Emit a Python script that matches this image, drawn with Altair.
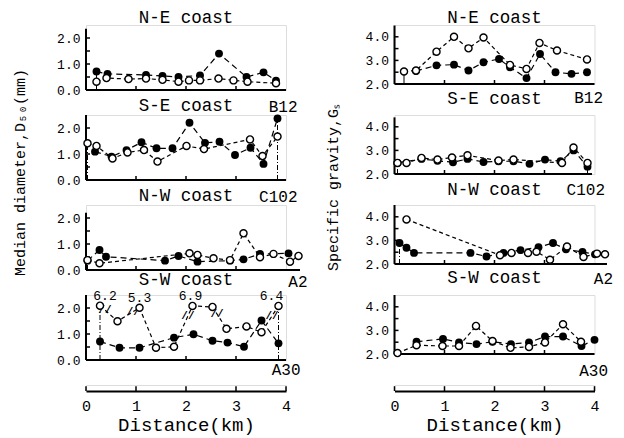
import altair as alt
import pandas as pd

FONT = "Liberation Mono"

# ---------------- data ----------------
# Median diameter D50 (mm)   f = filled circles, o = open circles
d_ne_fx = [0.21, 0.43, 1.20, 1.53, 1.85, 2.28, 2.66, 3.21, 3.55, 3.80]
d_ne_fy = [0.71, 0.62, 0.58, 0.54, 0.50, 0.56, 1.40, 0.50, 0.68, 0.36]
d_ne_ox = [0.21, 0.41, 0.85, 1.20, 1.53, 1.85, 2.06, 2.28, 2.65, 2.95, 3.23, 3.80]
d_ne_oy = [0.32, 0.46, 0.42, 0.44, 0.39, 0.32, 0.37, 0.37, 0.44, 0.37, 0.32, 0.26]

d_se_fx = [0.18, 0.51, 0.81, 1.11, 1.41, 1.73, 2.07, 2.38, 2.67, 2.98, 3.29, 3.55, 3.83]
d_se_fy = [1.09, 0.90, 1.15, 1.45, 1.22, 1.22, 2.20, 1.43, 1.47, 0.96, 1.24, 0.62, 2.37]
d_se_ox = [0.03, 0.21, 0.53, 0.83, 1.16, 1.43, 2.01, 2.36, 3.28, 3.53, 3.83]
d_se_oy = [1.41, 1.31, 0.83, 1.06, 1.15, 0.71, 1.31, 1.19, 1.56, 0.92, 1.67]

d_nw_fx = [0.03, 0.27, 0.40, 1.58, 1.85, 2.23, 2.88, 3.15, 3.48, 4.05]
d_nw_fy = [0.36, 0.77, 0.51, 0.36, 0.54, 0.32, 0.36, 0.41, 0.62, 0.64]
d_nw_ox = [0.03, 0.27, 2.07, 2.23, 2.55, 2.88, 3.15, 3.48, 3.75, 4.08, 4.25]
d_nw_oy = [0.38, 0.26, 0.64, 0.58, 0.45, 0.38, 1.41, 0.49, 0.62, 0.32, 0.54]

d_sw_fx = [0.28, 0.67, 1.07, 1.76, 2.15, 2.53, 2.83, 3.16, 3.51, 3.85]
d_sw_fy = [0.71, 0.47, 0.47, 0.86, 0.99, 0.74, 0.67, 0.51, 1.52, 0.64]
d_sw_ox = [0.28, 0.63, 1.07, 1.40, 1.76, 2.13, 2.53, 2.81, 3.21, 3.51, 3.85]
d_sw_oy = [2.09, 1.49, 2.01, 0.47, 0.51, 2.08, 2.04, 1.20, 1.29, 1.07, 2.08]
# off-scale open values (axis broken)
sw_break_idx = [0, 2, 5, 10]
sw_break_txt = ["6.2", "5.3", "6.9", "6.4"]
sw_break_seg = [(0, 1, 0.28), (1, 2, 0.72), (4, 5, 0.75), (6, 7, 0.32), (9, 10, 0.62)]

# Specific gravity Gs
g_ne_fx = [0.43, 0.84, 1.19, 1.48, 1.78, 2.09, 2.31, 2.64, 2.91, 3.22, 3.54, 3.85]
g_ne_fy = [2.55, 2.79, 2.82, 2.57, 2.92, 3.06, 2.71, 2.25, 3.27, 2.50, 2.43, 2.50]
g_ne_ox = [0.19, 0.43, 0.84, 1.19, 1.48, 1.78, 2.31, 2.64, 2.90, 3.25, 3.85]
g_ne_oy = [2.53, 2.57, 3.37, 4.00, 3.51, 3.97, 2.81, 2.64, 3.74, 3.42, 3.04]

g_se_fx = [0.06, 0.54, 0.86, 1.17, 1.46, 1.78, 2.08, 2.38, 2.70, 3.01, 3.32, 3.58, 3.86]
g_se_fy = [2.47, 2.64, 2.56, 2.50, 2.64, 2.51, 2.54, 2.54, 2.43, 2.61, 2.54, 3.00, 2.31]
g_se_ox = [0.06, 0.24, 0.54, 0.86, 1.15, 1.46, 2.08, 2.38, 3.35, 3.58, 3.86]
g_se_oy = [2.47, 2.47, 2.68, 2.61, 2.70, 2.79, 2.57, 2.61, 2.47, 3.12, 2.47]

g_nw_fx = [0.10, 0.24, 0.39, 1.52, 1.84, 2.18, 2.52, 2.88, 3.17, 3.43, 3.76, 4.01]
g_nw_fy = [2.89, 2.69, 2.47, 2.47, 2.32, 2.47, 2.59, 2.71, 2.89, 2.62, 2.51, 2.41]
g_nw_ox = [0.24, 2.11, 2.34, 2.67, 2.84, 3.11, 3.45, 3.78, 4.05, 4.21]
g_nw_oy = [3.89, 2.37, 2.47, 2.47, 2.52, 2.18, 2.74, 2.30, 2.44, 2.41]

g_sw_fx = [0.44, 0.97, 1.29, 1.64, 1.96, 2.33, 2.69, 3.01, 3.37, 3.74, 4.00]
g_sw_fy = [2.52, 2.64, 2.49, 2.42, 2.52, 2.42, 2.49, 2.74, 2.74, 2.34, 2.60]
g_sw_ox = [0.06, 0.44, 0.96, 1.29, 1.63, 1.96, 2.32, 2.69, 3.01, 3.37, 3.73]
g_sw_oy = [2.04, 2.37, 2.34, 2.34, 3.19, 2.55, 2.26, 2.30, 2.49, 3.26, 2.52]

titles = ["N-E coast", "S-E coast", "N-W coast", "S-W coast"]
codes = ["B12", "C102", "A2", "A30"]
dist_ticks = [0, 1, 2, 3, 4]


def panel(fx, fy, ox, oy, dom, ytop, ytick_vals, ylab_vals, x_end, vlines, title,
          title_off, code, code_x, code_y, height, px_unit, ytitle=None, ytitle_xy=None,
          solid_vline=False, extra=None):
    sx = alt.Scale(domain=[0, 4])
    sy = alt.Scale(domain=dom)
    yk = dict(values=ylab_vals, format=".1f", ticks=False, domain=False, grid=False,
              labelFont=FONT, labelFontSize=13, labelColor="black", labelPadding=6)
    if ytitle:
        yk.update(title=ytitle, titleFont=FONT, titleFontSize=15, titleFontWeight="normal",
                  titleColor="black", titleX=ytitle_xy[0], titleY=ytitle_xy[1],
                  titleAlign="center", titleBaseline="middle", titleAngle=270)
    else:
        yk.update(title="")
    ya = alt.Axis(**yk)
    xa = alt.Axis(domain=False, ticks=False, labels=False, grid=False, title=code,
                  titleFont=FONT, titleFontSize=16, titleFontWeight="normal",
                  titleColor="black", titleX=code_x, titleY=code_y,
                  titleAlign="right", titleBaseline="middle")

    def X(f):
        return alt.X(f, type="quantitative", scale=sx, axis=xa)

    def Y(f):
        return alt.Y(f, type="quantitative", scale=sy, axis=ya)

    tick_len = 4.0 / px_unit
    layers = []
    base = pd.DataFrame({"x": [0.0], "x2": [x_end], "y": [dom[0]]})
    layers.append(alt.Chart(base).mark_rule(color="black", strokeWidth=2).encode(
        x=X("x"), x2="x2", y=Y("y")))
    yline = pd.DataFrame({"x": [0.0], "y": [dom[0]], "y2": [ytop]})
    layers.append(alt.Chart(yline).mark_rule(color="black", strokeWidth=2).encode(
        x=X("x"), y=Y("y"), y2="y2"))
    yt = pd.DataFrame({"x": [0.0] * len(ytick_vals), "x2": [0.08] * len(ytick_vals),
                       "y": ytick_vals})
    layers.append(alt.Chart(yt).mark_rule(color="black", strokeWidth=1.5).encode(
        x=X("x"), x2="x2", y=Y("y")))
    xt = pd.DataFrame({"x": [1, 2, 3], "y": [dom[0]] * 3, "y2": [dom[0] + tick_len] * 3})
    layers.append(alt.Chart(xt).mark_rule(color="black", strokeWidth=1.5).encode(
        x=X("x"), y=Y("y"), y2="y2"))
    # panel heading, centred over the 0-4 km span
    ttl = pd.DataFrame({"x": [2.0], "y": [dom[1]], "t": [title]})
    layers.append(alt.Chart(ttl).mark_text(font=FONT, fontSize=17.5, color="black",
                                           baseline="middle", dy=-title_off).encode(
        x=X("x"), y=Y("y"), text="t:N"))
    if vlines:
        vl = pd.DataFrame({"x": [v[0] for v in vlines], "y": [dom[0]] * len(vlines),
                           "y2": [v[1] for v in vlines]})
        dash = [1, 0] if solid_vline else [5, 2, 1, 2]
        layers.append(alt.Chart(vl).mark_rule(color="black", strokeWidth=1,
                                               strokeDash=dash).encode(
            x=X("x"), y=Y("y"), y2="y2"))
    fdf = pd.DataFrame({"x": fx, "y": fy, "i": range(len(fx))})
    odf = pd.DataFrame({"x": ox, "y": oy, "i": range(len(ox))})
    layers.append(alt.Chart(fdf).mark_line(color="black", strokeWidth=1.2,
                                           strokeDash=[6, 4]).encode(
        x=X("x"), y=Y("y"), order="i:Q"))
    layers.append(alt.Chart(odf).mark_line(color="black", strokeWidth=1.2,
                                           strokeDash=[4, 3]).encode(
        x=X("x"), y=Y("y"), order="i:Q"))
    if extra is not None:
        layers.extend(extra(X, Y))
    layers.append(alt.Chart(fdf).mark_point(shape="circle", filled=True, color="black",
                                            size=62, opacity=1).encode(x=X("x"), y=Y("y")))
    layers.append(alt.Chart(odf).mark_point(shape="circle", filled=True, fill="white",
                                            stroke="black", strokeWidth=1.4, size=50,
                                            opacity=1).encode(x=X("x"), y=Y("y")))
    return alt.layer(*layers).properties(width=200, height=height)


def sw_extra(X, Y):
    lab = pd.DataFrame({"x": [d_sw_ox[i] for i in sw_break_idx],
                        "y": [d_sw_oy[i] for i in sw_break_idx],
                        "t": sw_break_txt,
                        "dx": [5, 0, -2, -7]})
    out = []
    for k in range(len(lab)):
        out.append(alt.Chart(lab.iloc[[k]]).mark_text(
            font=FONT, fontSize=13, color="black", dy=-10, dx=int(lab.dx.iloc[k]),
            baseline="middle").encode(x=X("x"), y=Y("y"), text="t:N"))
    bx, by = [], []
    for a, b, t in sw_break_seg:
        bx.append(d_sw_ox[a] + (d_sw_ox[b] - d_sw_ox[a]) * t)
        by.append(d_sw_oy[a] + (d_sw_oy[b] - d_sw_oy[a]) * t)
    brk = pd.DataFrame({"x": bx, "y": by, "t": ["//"] * len(bx)})
    out.append(alt.Chart(brk).mark_text(font=FONT, fontSize=11, fontWeight="bold",
                                        color="black", baseline="middle").encode(
        x=X("x"), y=Y("y"), text="t:N"))
    return out


def dist_chart():
    sx = alt.Scale(domain=[0, 4])
    xa = alt.Axis(values=dist_ticks, format="d", ticks=False, domain=True, domainWidth=2,
                  domainColor="black", grid=False, labelFont=FONT, labelFontSize=15,
                  labelColor="black", labelPadding=7, labelFlush=False,
                  title="Distance(km)", titleFont=FONT, titleFontSize=19,
                  titleFontWeight="normal", titleColor="black", titlePadding=2)
    df = pd.DataFrame({"x": dist_ticks, "y": [0] * 5, "y2": [0.8] * 5})
    return alt.Chart(df).mark_rule(color="black", strokeWidth=1.5).encode(
        x=alt.X("x:Q", scale=sx, axis=xa),
        y=alt.Y("y:Q", scale=alt.Scale(domain=[0, 1]), axis=None),
        y2="y2").properties(width=200, height=6)


LD = [0, 2.5]
LH = 65
LU = 26
lt = [0.5, 1.0, 1.5, 2.0]
ll = [0.0, 1.0, 2.0]
RD = [2.0, 4.5]
RH = 59
RU = 23.6
rt = [2.5, 3.0, 3.5, 4.0]
rl = [2.0, 3.0, 4.0]

left = alt.vconcat(
    panel(d_ne_fx, d_ne_fy, d_ne_ox, d_ne_oy, LD, 2.36, lt, ll, 4.0,
          [(d_ne_fx[0], d_ne_fy[0])], titles[0], 7, codes[0], 211, 16, LH, LU,
          solid_vline=True),
    panel(d_se_fx, d_se_fy, d_se_ox, d_se_oy, LD, 2.5, lt, ll, 4.0,
          [(d_se_ox[0], d_se_oy[0]), (d_se_fx[-1], d_se_fy[-1])], titles[1], 9,
          codes[1], 211, 16, LH, LU, ytitle="Median diameter,D₅₀(mm)",
          ytitle_xy=(-67, 57)),
    panel(d_nw_fx, d_nw_fy, d_nw_ox, d_nw_oy, LD, 2.2, lt, ll, 4.28,
          [(d_nw_ox[0], d_nw_oy[0])], titles[2], 9, codes[2], 221, 11, LH, LU),
    panel(d_sw_fx, d_sw_fy, d_sw_ox, d_sw_oy, LD, 2.5, lt, ll, 4.0,
          [(d_sw_ox[0], d_sw_oy[0]), (d_sw_ox[-1], d_sw_oy[-1])], titles[3], 15,
          codes[3], 214, 9, LH, LU, extra=sw_extra),
    dist_chart(),
    spacing=25, bounds="flush")

right = alt.vconcat(
    panel(g_ne_fx, g_ne_fy, g_ne_ox, g_ne_oy, RD, 4.48, rt, rl, 4.0,
          [(g_ne_ox[0], g_ne_oy[0])], titles[0], 7, codes[0], 208, 13, RH, RU,
          solid_vline=True),
    panel(g_se_fx, g_se_fy, g_se_ox, g_se_oy, RD, 4.4, rt, rl, 3.95,
          [(g_se_ox[0], g_se_oy[0]), (g_se_ox[-1], g_se_oy[-1])], titles[1], 16,
          codes[1], 210, 15, RH, RU, ytitle="Specific gravity,Gₛ",
          ytitle_xy=(-62, 72)),
    panel(g_nw_fx, g_nw_fy, g_nw_ox, g_nw_oy, RD, 4.5, rt, rl, 4.25,
          [(g_nw_fx[0], g_nw_fy[0])], titles[2], 15, codes[2], 218, 14, RH, RU),
    panel(g_sw_fx, g_sw_fy, g_sw_ox, g_sw_oy, RD, 4.5, rt, rl, 4.0,
          [], titles[3], 17, codes[3], 213, 16, RH, RU),
    dist_chart(),
    spacing=31, bounds="flush")

chart = alt.hconcat(left, right, spacing=308.5, bounds="flush").properties(
    padding={"left": 3, "top": 0, "right": 0, "bottom": 0}
).configure_view(stroke=None).configure(background="white")

chart.save("out.html", embed_options={"renderer": "svg", "actions": False})
